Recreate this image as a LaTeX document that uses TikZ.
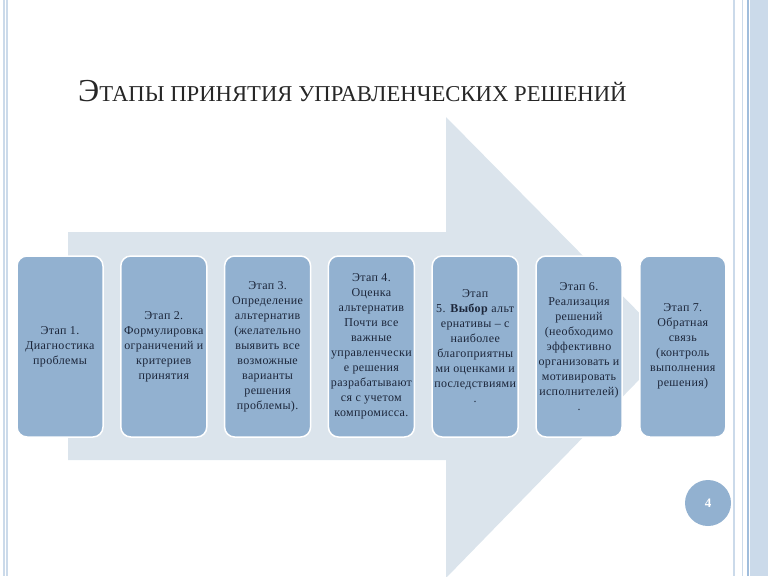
\documentclass[tikz,border=0pt]{standalone}
\usepackage{fontspec}
\setmainfont{Liberation Serif}
\usetikzlibrary{positioning}

\definecolor{stagefill}{RGB}{146,177,208}
\definecolor{arrowfill}{RGB}{219,228,236}
\definecolor{stagetext}{RGB}{28,38,58}
\definecolor{framelight}{RGB}{203,218,234}
\definecolor{framedark}{RGB}{160,189,220}

\tikzset{
  stage/.style={draw=white, line width=1.5pt, fill=stagefill, rounded corners=10pt,
    minimum width=86pt, minimum height=181pt, inner sep=1pt, align=center,
    text=stagetext, font=\fontsize{12}{15}\selectfont\addfontfeature{LetterSpace=3}},
}

\begin{document}
\begin{tikzpicture}[x=1pt, y=-1pt]
		\useasboundingbox (0,0) rectangle (768,576);
		\clip (0,0) rectangle (768,576);
		% frame of the slide
		\foreach \x in {4, 7, 734}{
			\draw[framelight, line width=1.2pt] (\x,0) -- (\x,576);
		}
		\fill[framelight] (750,0) rectangle (768,576);
		\draw[framedark, line width=2pt] (748,0) -- (748,576);
		\draw[framelight, line width=1pt] (742.5,0) -- (742.5,576);
		% title
		\node[anchor=base west, inner sep=0pt, text=black!85] (title) at (78,101)
			{\fontsize{32}{32}\selectfont Э\fontsize{22.7}{22.7}\selectfont ТАПЫ ПРИНЯТИЯ УПРАВЛЕНЧЕСКИХ РЕШЕНИЙ};
		% big arrow behind the stages
		\fill[arrowfill] (68,232) -- (446,232) -- (446,117) -- (672,346) -- (446,578) -- (446,460) -- (68,460) -- cycle;
		% stages
		\node[stage] (stage1) at (60,346.5) {Этап 1.\\Диагностика\\проблемы};
		\node[stage] (stage2) at (163.8,346.5) {Этап 2.\\Формулировка\\ограничений и\\критериев\\принятия};
		\node[stage] (stage3) at (267.6,346.5) {Этап 3.\\Определение\\альтернатив\\(желательно\\выявить все\\возможные\\варианты\\решения\\проблемы).};
		\node[stage] (stage4) at (371.4,346.5) {Этап 4.\\Оценка\\альтернатив\\Почти все\\важные\\управленчески\\е решения\\разрабатывают\\ся с учетом\\компромисса.};
		\node[stage] (stage5) at (475.2,346.5) {Этап\\5. \textbf{Выбор} альт\\ернативы -- с\\наиболее\\благоприятны\\ми оценками и\\последствиями\\.};
		\node[stage] (stage6) at (579,346.5) {Этап 6.\\Реализация\\решений\\(необходимо\\эффективно\\организовать и\\мотивировать\\исполнителей)\\.};
		\node[stage] (stage7) at (682.8,346.5) {Этап 7.\\Обратная\\связь\\(контроль\\выполнения\\решения)};
		% slide number
		\node[circle, fill=stagefill, minimum size=46pt, text=white, font=\bfseries\fontsize{13}{13}\selectfont] (pagenum) at (708,503) {4};
	\end{tikzpicture}
\end{document}
